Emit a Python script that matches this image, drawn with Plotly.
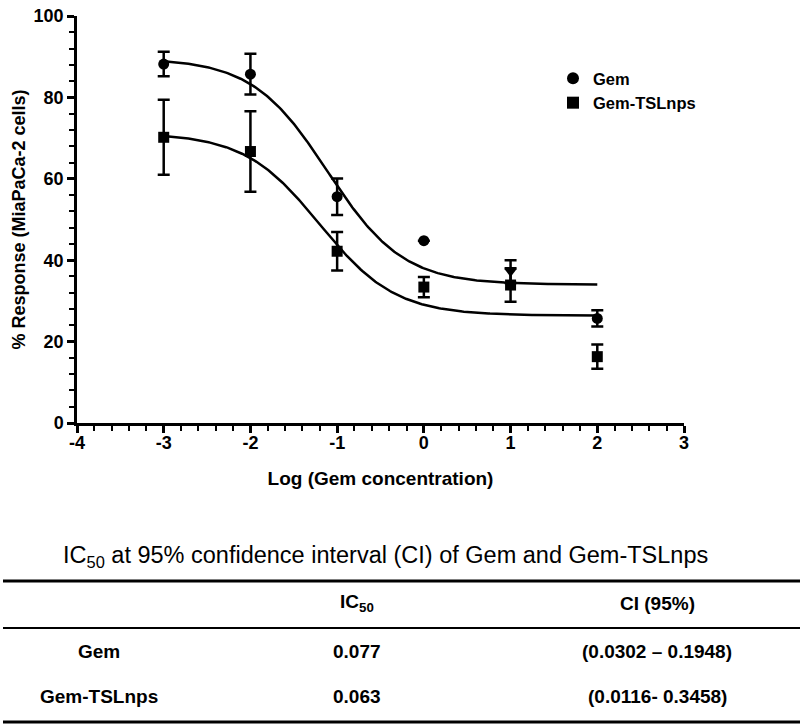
import numpy as np
import plotly.graph_objects as go

# ---------------- data ----------------
log_conc = [-3, -2, -1, 0, 1, 2]

gem_resp = [88.2, 85.7, 55.6, 44.8, 37.2, 25.7]
gem_err = [3.0, 5.0, 4.5, 0.0, 2.8, 2.0]
gem_symbols = ["circle", "circle", "circle", "circle", "triangle-down", "circle"]

tsl_resp = [70.2, 66.7, 42.2, 33.4, 33.9, 16.3]
tsl_err = [9.2, 9.9, 4.7, 2.5, 4.1, 3.0]

# four-parameter logistic fit parameters (top, bottom, logIC50, hill)
gem_fit = dict(top=89.6, bottom=34.0, logic50=-1.11, hill=1.0)
tsl_fit = dict(top=71.2, bottom=26.4, logic50=-1.20, hill=1.0)
fit_range = (-3.0, 2.0)

x_ticks = [-4, -3, -2, -1, 0, 1, 2, 3]
x_ticktext = ["-4", "-3", "-2", "-1", "0", "1", "2", "3"]
y_ticks = [0, 20, 40, 60, 80, 100]

table_title = "IC<sub>50</sub> at 95% confidence interval (CI) of Gem and Gem-TSLnps"
table_header = ["", "IC<sub>50</sub>", "CI (95%)"]
table_rows = [
    ["Gem", "0.077", "(0.0302 – 0.1948)"],
    ["Gem-TSLnps", "0.063", "(0.0116- 0.3458)"],
]

# ---------------- figure ----------------
W, H = 800, 728
L, R, T, B = 77, 116, 16, 305
PW, PH = W - L - R, H - T - B

def px2x(px):
    return (px - L) / PW

def py2y(py):
    return (H - B - py) / PH

FONT = "Liberation Sans, Arial, sans-serif"

def logistic(x, p):
    return p["bottom"] + (p["top"] - p["bottom"]) / (1 + 10 ** ((x - p["logic50"]) * p["hill"]))

xf = np.linspace(fit_range[0], fit_range[1], 300)

fig = go.Figure()
for p in (gem_fit, tsl_fit):
    fig.add_trace(go.Scatter(x=xf, y=logistic(xf, p), mode="lines",
                             line=dict(color="black", width=2.5),
                             showlegend=False, hoverinfo="skip"))

fig.add_trace(go.Scatter(
    x=log_conc, y=gem_resp, mode="markers", name="Gem",
    marker=dict(symbol=gem_symbols, size=11, color="black"),
    error_y=dict(type="data", array=gem_err, color="black", thickness=2.5, width=6),
))
fig.add_trace(go.Scatter(
    x=log_conc, y=tsl_resp, mode="markers", name="Gem-TSLnps",
    marker=dict(symbol="square", size=11, color="black"),
    error_y=dict(type="data", array=tsl_err, color="black", thickness=2.5, width=6),
))

axis_common = dict(
    showline=True, linecolor="black", linewidth=2.5, mirror=False,
    ticks="outside", ticklen=7, tickwidth=2.5, tickcolor="black",
    showgrid=False, zeroline=False, automargin=False,
    tickfont=dict(family=FONT, size=18, color="black", weight="bold"),
)

fig.update_xaxes(range=[-4, 3], tickvals=x_ticks, ticktext=x_ticktext, **axis_common,
                 ticklabelstandoff=-5,
                 minor=dict(dtick=0.2, ticks="outside", ticklen=5, tickwidth=2.2,
                            tickcolor="black", showgrid=False),
                 title=dict(text="Log (Gem concentration)", standoff=20,
                            font=dict(family=FONT, size=19, color="black", weight="bold")))
fig.update_yaxes(range=[0, 100], tickvals=y_ticks, **axis_common,
                 ticklabelstandoff=0,
                 minor=dict(dtick=4, ticks="outside", ticklen=5, tickwidth=2.2,
                            tickcolor="black", showgrid=False),
                 title=dict(text="% Response (MiaPaCa-2 cells)", standoff=4,
                            font=dict(family=FONT, size=18, color="black", weight="bold")))

annotations = []
shapes = []

# table title
annotations.append(dict(text=table_title, x=px2x(385), y=py2y(556), xref="paper", yref="paper",
                        showarrow=False, xanchor="center", yanchor="middle",
                        font=dict(family=FONT, size=23.5, color="black")))

# table lines
for py, w in [(581, 3), (628, 2), (722, 3)]:
    shapes.append(dict(type="line", xref="paper", yref="paper",
                       x0=px2x(3), x1=px2x(800), y0=py2y(py), y1=py2y(py),
                       line=dict(color="black", width=w)))

col_x = [99, 357, 657]
row_y = [603, 651, 696]
all_rows = [table_header] + table_rows
for ry, row in zip(row_y, all_rows):
    for cx, txt in zip(col_x, row):
        if not txt:
            continue
        annotations.append(dict(text=txt, x=px2x(cx), y=py2y(ry), xref="paper", yref="paper",
                                showarrow=False, xanchor="center", yanchor="middle",
                                font=dict(family=FONT, size=19, color="black", weight="bold")))

fig.update_layout(
    width=W, height=H,
    margin=dict(l=L, r=R, t=T, b=B, autoexpand=False),
    paper_bgcolor="white", plot_bgcolor="white",
    showlegend=True,
    legend=dict(x=px2x(553), y=py2y(61), xanchor="left", yanchor="top",
                font=dict(family=FONT, size=16.5, color="black", weight="bold"),
                bgcolor="rgba(0,0,0,0)", itemsizing="constant", tracegroupgap=2),
    annotations=annotations, shapes=shapes,
)

fig.write_html("out.html", config={"displayModeBar": False},
               post_script="document.body.style.margin='0';")
